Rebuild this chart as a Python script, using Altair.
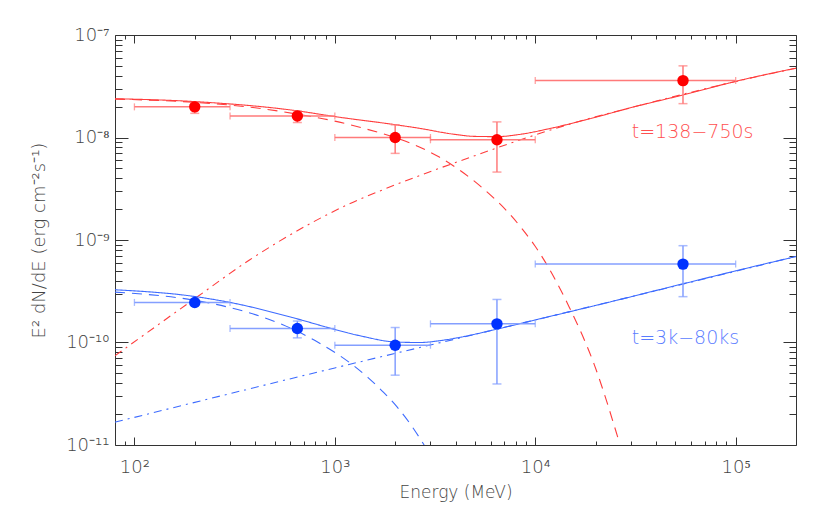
import math
import altair as alt
import pandas as pd

# ---------------- data ----------------
# energy bins (MeV) shared by both epochs
bin_E = [200, 650, 2000, 6440, 54600]
bin_lo = [100, 300, 1000, 3000, 10000]
bin_hi = [300, 1000, 3000, 10000, 100000]

# t = 138-750 s  (red)
red_F = [1.99e-8, 1.62e-8, 1.0e-8, 9.5e-9, 3.59e-8]
red_F_lo = [1.72e-8, 1.40e-8, 7.0e-9, 4.6e-9, 2.14e-8]
red_F_hi = [2.15e-8, 1.82e-8, 1.33e-8, 1.42e-8, 5.0e-8]

# t = 3k-80 ks  (blue)
blue_F = [2.46e-10, 1.37e-10, 9.4e-11, 1.52e-10, 5.82e-10]
blue_F_lo = [2.30e-10, 1.11e-10, 4.8e-11, 3.94e-11, 2.8e-10]
blue_F_hi = [2.62e-10, 1.62e-10, 1.40e-10, 2.63e-10, 8.8e-10]

# model curves: total (solid), cutoff (dashed), power law (dash-dot)
red_total_E = [80, 200, 650, 1000, 2020, 2640, 3870, 5000, 6440, 8310, 12200, 17900, 33000, 54600, 100000, 200000]
red_total_F = [2.39e-8, 2.24e-8, 1.82e-8, 1.60e-8, 1.33e-8, 1.23e-8, 1.08e-8, 1.025e-8, 1.02e-8, 1.07e-8, 1.24e-8, 1.49e-8, 2.05e-8, 2.60e-8, 3.53e-8, 4.75e-8]
red_cut_E = [80, 200, 400, 650, 1000, 1420, 2020, 2640, 3320, 4180, 5250, 6400, 7400, 8640, 9950, 14800, 19700, 26300]
red_cut_F = [2.37e-8, 2.20e-8, 1.95e-8, 1.69e-8, 1.445e-8, 1.216e-8, 9.91e-9, 8.09e-9, 6.44e-9, 4.83e-9, 3.43e-9, 2.43e-9, 1.82e-9, 1.27e-9, 8.79e-10, 2.20e-10, 6.08e-11, 1.05e-11]
red_pl_E = [80, 200, 375, 775, 1180, 1800, 3080, 4700, 8310, 15300, 33000, 100000, 200000]
red_pl_F = [7.43e-11, 2.68e-10, 6.38e-10, 1.49e-9, 2.25e-9, 3.18e-9, 4.74e-9, 6.37e-9, 9.40e-9, 1.374e-8, 2.05e-8, 3.52e-8, 4.74e-8]

blue_total_E = [80, 200, 300, 650, 1000, 1370, 2020, 2640, 3320, 4180, 6440, 10000, 20800, 54600, 100000, 200000]
blue_total_F = [3.27e-10, 2.81e-10, 2.46e-10, 1.70e-10, 1.34e-10, 1.15e-10, 1.01e-10, 1.0e-10, 1.04e-10, 1.12e-10, 1.35e-10, 1.66e-10, 2.34e-10, 3.74e-10, 5.0e-10, 6.9e-10]
blue_cut_E = [80, 200, 300, 404, 550, 650, 828, 1040, 1236, 1469, 1746, 2034, 2370, 2790]
blue_cut_F = [3.10e-10, 2.58e-10, 2.19e-10, 1.86e-10, 1.49e-10, 1.285e-10, 1.0e-10, 7.62e-11, 5.98e-11, 4.52e-11, 3.28e-11, 2.38e-11, 1.62e-11, 1.0e-11]
blue_pl_E = [80, 1000, 10000, 200000]
blue_pl_F = [1.67e-11, 5.65e-11, 1.66e-10, 6.9e-10]

# annotations
ann_text = ["t=138\u2212750s", "t=3k\u221280ks"]
ann_E = [30300, 30300]
ann_F = [1.14e-8, 1.11e-10]

# axis ticks / labels
x_tick_values = [1e2, 1e3, 1e4, 1e5]
x_tick_labels = ["10\u00b2", "10\u00b3", "10\u2074", "10\u2075"]
y_tick_values = [1e-11, 1e-10, 1e-9, 1e-8, 1e-7]
y_tick_labels = ["10\u207b\u00b9\u00b9", "10\u207b\u00b9\u2070", "10\u207b\u2079", "10\u207b\u2078", "10\u207b\u2077"]
x_minor = [m * 10 ** k for k in range(1, 6) for m in range(2, 10) if 80 < m * 10 ** k < 2e5]
y_minor = [m * 10.0 ** k for k in range(-11, -7) for m in range(2, 10)]

# ---------------- styling ----------------
FONT = "DejaVu Sans"
TXT = "#444444"
FRAME = "#333333"
W, H = 681, 410
xs = alt.Scale(type="log", domain=[80, 2e5], nice=False)
ys = alt.Scale(type="log", domain=[1e-11, 1e-7], nice=False)


def label_expr(values, labels):
    expr = "''"
    for v, lab in zip(values, labels):
        e = int(round(math.log10(v)))
        expr = f"abs(log(datum.value)/LN10 - ({e})) < 1e-6 ? '{lab}' : ({expr})"
    return expr


IS_MAJOR = "abs(log(datum.value)/LN10 - round(log(datum.value)/LN10)) < 1e-6"


def tick_dash(major_len, minor_len, span):
    # grid line dashed so that only a short inward tick shows at each side of the frame
    return {"condition": {"test": IS_MAJOR, "value": [major_len, span - 2 * major_len, major_len, 4000]},
            "value": [minor_len, span - 2 * minor_len, minor_len, 4000]}


x_lab = alt.Axis(orient="bottom", values=x_tick_values + x_minor,
                 labelExpr=label_expr(x_tick_values, x_tick_labels), labelOverlap=False,
                 ticks=False, tickSize=0, domain=False,
                 grid=True, gridColor=FRAME, gridWidth=1, gridOpacity=1, gridDash=tick_dash(8, 4, H),
                 labelPadding=13, labelFlush=False,
                 labelFont=FONT, labelFontSize=18, labelFontWeight=300, labelColor=TXT,
                 title="Energy (MeV)", titleFont=FONT, titleFontSize=17, titleFontWeight=300,
                 titleColor=TXT, titleBaseline="alphabetic", titleY=52)
y_lab = alt.Axis(orient="left", values=y_tick_values + y_minor,
                 labelExpr=label_expr(y_tick_values, y_tick_labels), labelOverlap=False,
                 ticks=False, tickSize=0, domain=False,
                 grid=True, gridColor=FRAME, gridWidth=1, gridOpacity=1, gridDash=tick_dash(13, 7, W),
                 labelPadding=6, labelFlush=True,
                 labelBaseline="middle", labelFont=FONT, labelFontSize=18, labelFontWeight=300,
                 labelColor=TXT, title="E\u00b2 dN/dE (erg cm\u207b\u00b2s\u207b\u00b9)", titleFont=FONT,
                 titleFontSize=18, titleFontWeight=300, titleColor=TXT, titleBaseline="alphabetic",
                 titleX=-71)

X = lambda f: alt.X(f, scale=xs, axis=x_lab)
Y = lambda f: alt.Y(f, scale=ys, axis=y_lab)

series = [
    dict(F=red_F, lo=red_F_lo, hi=red_F_hi, pc="#ff0000", lc="#ff3c3c", ec="#ff7a7a",
         curves=[(red_total_E, red_total_F, [1, 0]), (red_cut_E, red_cut_F, [10, 7]),
                 (red_pl_E, red_pl_F, [8, 5, 2, 5])]),
    dict(F=blue_F, lo=blue_F_lo, hi=blue_F_hi, pc="#0033ff", lc="#3d6bff", ec="#849fff",
         curves=[(blue_total_E, blue_total_F, [1, 0]), (blue_cut_E, blue_cut_F, [10, 7]),
                 (blue_pl_E, blue_pl_F, [8, 5, 2, 5])]),
]

data_layers = []
for s in series:
    for cE, cF, dash in s["curves"]:
        cdf = pd.DataFrame({"E": cE, "F": cF})
        data_layers.append(
            alt.Chart(cdf).mark_line(color=s["lc"], strokeWidth=1.1, strokeDash=dash,
                                     interpolate="monotone", clip=True)
            .encode(x=X("E:Q"), y=Y("F:Q"))
        )
    df = pd.DataFrame({"E": bin_E, "Elo": bin_lo, "Ehi": bin_hi,
                       "F": s["F"], "Flo": s["lo"], "Fhi": s["hi"]})
    base = alt.Chart(df)
    data_layers += [
        base.mark_rule(color=s["ec"], strokeWidth=1.5).encode(x=X("Elo:Q"), x2="Ehi:Q", y=Y("F:Q")),
        base.mark_rule(color=s["ec"], strokeWidth=1.5).encode(x=X("E:Q"), y=Y("Flo:Q"), y2="Fhi:Q"),
        base.transform_fold(["Elo", "Ehi"], as_=["k", "Ec"]).mark_tick(
            orient="vertical", size=7, thickness=1.3, color=s["ec"]).encode(x=X("Ec:Q"), y=Y("F:Q")),
        base.transform_fold(["Flo", "Fhi"], as_=["k", "Fc"]).mark_tick(
            orient="horizontal", size=9, thickness=1.5, color=s["ec"]).encode(x=X("E:Q"), y=Y("Fc:Q")),
        base.mark_circle(size=130, opacity=1, color=s["pc"]).encode(x=X("E:Q"), y=Y("F:Q")),
    ]

ann = pd.DataFrame({"E": ann_E, "F": ann_F, "t": ann_text, "c": ["#ff5050", "#5a7cff"]})
text_layer = alt.Chart(ann).mark_text(align="left", baseline="middle", font=FONT, fontSize=19,
                                      fontWeight=300).encode(
    x=X("E:Q"), y=Y("F:Q"), text="t:N", color=alt.Color("c:N", scale=None, legend=None))

chart = (
    alt.layer(*data_layers, text_layer)
    .properties(width=W, height=H,
                padding={"left": 107, "top": 27, "right": 26, "bottom": 66},
                autosize=alt.AutoSizeParams(type="none"))
    .configure_view(stroke=FRAME, strokeWidth=1)
)

chart.save("out.html", embed_options={"renderer": "svg", "actions": False})
